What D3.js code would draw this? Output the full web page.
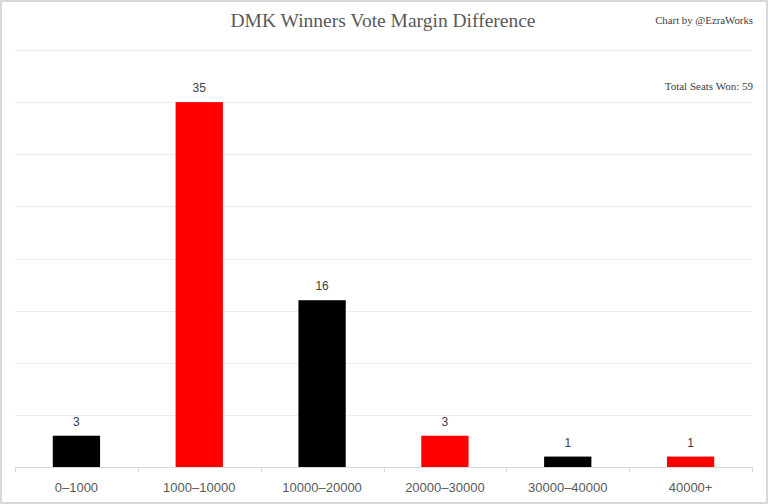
<!DOCTYPE html>
<html>
<head>
<meta charset="utf-8">
<script src="https://cdn.jsdelivr.net/npm/d3@7"></script>
<style>
  html, body { margin: 0; padding: 0; background: #fff; }
  svg { display: block; }
</style>
</head>
<body>
<div id="chart"></div>
<script>
// data
const categories = ['0–1000', '1000–10000', '10000–20000', '20000–30000', '30000–40000', '40000+']
const seats = [3, 35, 16, 3, 1, 1]
const barColors = ['#000000', '#ff0000', '#000000', '#ff0000', '#000000', '#ff0000']
const yTicks = [0, 5, 10, 15, 20, 25, 30, 35, 40]

const width = 768
const height = 504
const margin = { top: 50, right: 16, bottom: 37, left: 15 }

const svg = d3.select('#chart')
  .append('svg')
  .attr('width', width)
  .attr('height', height)

// outer frame
svg.append('rect')
  .attr('x', 1).attr('y', 1)
  .attr('width', width - 2).attr('height', height - 2)
  .attr('fill', '#fff')
  .attr('stroke', '#d9d9d9')
  .attr('stroke-width', 2)

const xScale = d3.scaleBand()
  .domain(categories)
  .range([margin.left, width - margin.right])
  .paddingInner(0.615)
  .paddingOuter(0.3075)

const yScale = d3.scaleLinear()
  .domain([0, 40])
  .range([height - margin.bottom, margin.top])

// gridlines
svg.append('g')
  .selectAll('line')
  .data(yTicks.filter(d => d > 0))
  .join('line')
  .attr('x1', margin.left)
  .attr('x2', width - margin.right)
  .attr('y1', d => Math.round(yScale(d)) + 0.5)
  .attr('y2', d => Math.round(yScale(d)) + 0.5)
  .attr('stroke', '#ececec')
  .attr('stroke-width', 1)

// bars
svg.append('g')
  .selectAll('rect')
  .data(seats)
  .join('rect')
  .attr('x', (d, i) => xScale(categories[i]))
  .attr('y', d => yScale(d))
  .attr('width', xScale.bandwidth())
  .attr('height', d => yScale(0) - yScale(d))
  .attr('fill', (d, i) => barColors[i])

// value labels
svg.append('g')
  .selectAll('text')
  .data(seats)
  .join('text')
  .attr('x', (d, i) => xScale(categories[i]) + xScale.bandwidth() / 2)
  .attr('y', d => yScale(d) - 10)
  .attr('text-anchor', 'middle')
  .attr('font-family', 'Liberation Sans, Arial, sans-serif')
  .attr('font-size', 12)
  .attr('fill', '#404040')
  .text(d => d)

// x axis: baseline with ticks at band edges
const step = xScale.step()
const edges = d3.range(categories.length + 1).map(i => margin.left + i * step)
const axis = svg.append('g')
axis.append('line')
  .attr('x1', margin.left).attr('x2', width - margin.right)
  .attr('y1', yScale(0) + 0.5).attr('y2', yScale(0) + 0.5)
  .attr('stroke', '#d9d9d9')
axis.selectAll('.tick')
  .data(edges)
  .join('line')
  .attr('class', 'tick')
  .attr('x1', d => Math.round(d) + 0.5).attr('x2', d => Math.round(d) + 0.5)
  .attr('y1', yScale(0)).attr('y2', yScale(0) + 5)
  .attr('stroke', '#d9d9d9')
axis.selectAll('.lbl')
  .data(categories)
  .join('text')
  .attr('class', 'lbl')
  .attr('x', d => xScale(d) + xScale.bandwidth() / 2)
  .attr('y', yScale(0) + 25)
  .attr('text-anchor', 'middle')
  .attr('font-family', 'Liberation Sans, Arial, sans-serif')
  .attr('font-size', 13)
  .attr('fill', '#595959')
  .text(d => d)

// title and notes
svg.append('text')
  .attr('x', 383)
  .attr('y', 27)
  .attr('text-anchor', 'middle')
  .attr('font-family', 'Liberation Serif, serif')
  .attr('font-size', 19.5)
  .attr('fill', '#595959')
  .text('DMK Winners Vote Margin Difference')

svg.append('text')
  .attr('x', 753)
  .attr('y', 24)
  .attr('text-anchor', 'end')
  .attr('font-family', 'Liberation Serif, serif')
  .attr('font-size', 10.8)
  .attr('fill', '#404040')
  .text('Chart by @EzraWorks')

svg.append('text')
  .attr('x', 753)
  .attr('y', 90)
  .attr('text-anchor', 'end')
  .attr('font-family', 'Liberation Serif, serif')
  .attr('font-size', 11)
  .attr('fill', '#404040')
  .text('Total Seats Won: 59')
</script>
</body>
</html>
